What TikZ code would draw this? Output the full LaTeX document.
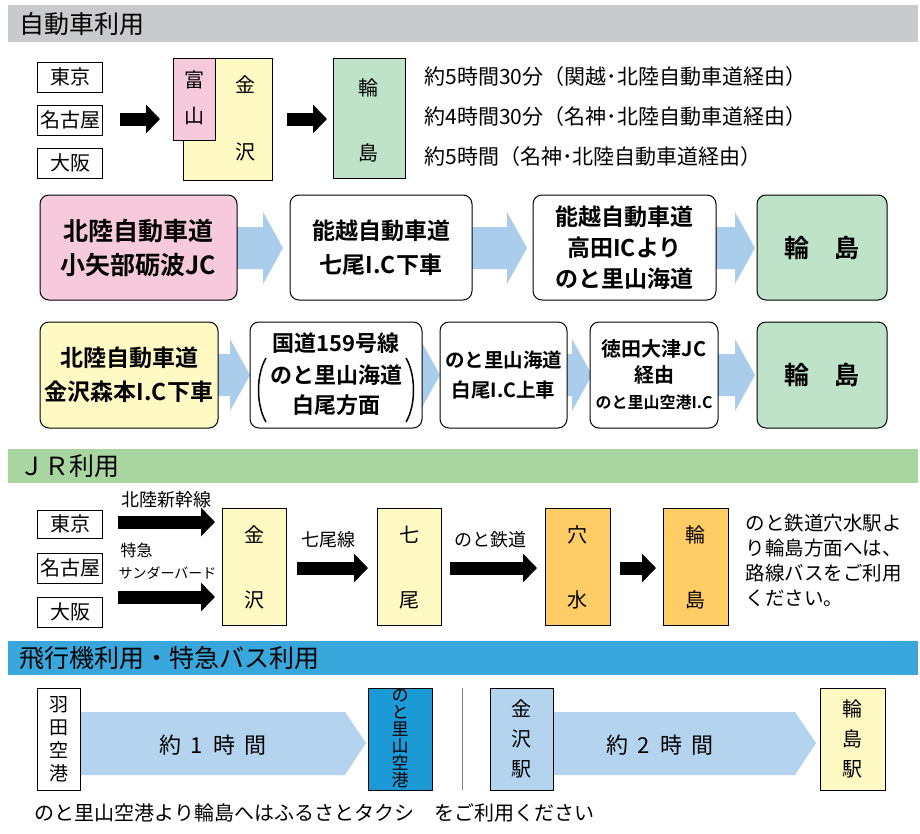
\documentclass[tikz,border=0pt]{standalone}
\usepackage{fontspec}
\setmainfont{Noto Sans CJK JP}
\newfontfamily\jpb{Noto Sans CJK JP Bold}
\usetikzlibrary{arrows.meta}
\definecolor{hgray}{HTML}{C9CACB}
\definecolor{hgreen}{HTML}{A8D5A0}
\definecolor{hblue}{HTML}{3AA7DC}
\definecolor{cpink}{HTML}{F6C9DC}
\definecolor{cyel}{HTML}{FFF9C4}
\definecolor{cgreen}{HTML}{BFE3C8}
\definecolor{corange}{HTML}{FFCC66}
\definecolor{lblue}{HTML}{A9CDEB}
\definecolor{dblue}{HTML}{1C9AD6}
\definecolor{sblue}{HTML}{B3D3EE}
\tikzset{
 hdr/.style={anchor=west,font=\fontsize{25}{25}\selectfont},
 sq/.style={draw,line width=1pt,inner sep=0pt,font=\fontsize{20}{20}\selectfont},
 rb/.style={draw,line width=1pt,rounded corners=9pt,inner sep=0pt,align=center,font=\jpb\fontsize{25}{34}\selectfont},
 blk/.style={line width=13pt,-{Triangle[width=28pt,length=14pt]}},
 lt/.style={anchor=west,font=\fontsize{21}{21}\selectfont},
 sm/.style={font=\fontsize{16}{16}\selectfont},
}
\begin{document}
\begin{tikzpicture}[x=1pt,y=-1pt]
\useasboundingbox (0,0) rectangle (920,833);
\fill[white] (0,0) rectangle (920,833);
% headers
\fill[hgray] (8,5) rectangle (918,42);
\node[hdr] (h1) at (16,24) {自動車利用};
\fill[hgreen] (8,449) rectangle (918,483);
\node[hdr] (h2) at (16,466) {ＪＲ利用};
\fill[hblue] (8,641) rectangle (918,675);
\node[hdr] (h3) at (16,658) {飛行機利用・特急バス利用};
% section 1 top
\node[sq,minimum width=65pt,minimum height=30pt] (t1) at (70,77) {東京};
\node[sq,minimum width=65pt,minimum height=30pt] (n1) at (70,120) {名古屋};
\node[sq,minimum width=65pt,minimum height=30pt] (o1) at (70,163) {大阪};
\node[sq,fill=cyel,minimum width=89pt,minimum height=122pt] (kz1) at (227.5,119) {};
\node[sq,fill=cpink,minimum width=42pt,minimum height=82pt] (ty1) at (194,99) {};
\node[sq,draw=none] at (194,80) {富};
\node[sq,draw=none] at (194,116) {山};
\node[sq,draw=none] at (245,85) {金};
\node[sq,draw=none] at (245,152) {沢};
\node[sq,fill=cgreen,minimum width=72pt,minimum height=120pt] (wj1) at (369,118) {};
\node[sq,draw=none] at (368,88) {輪};
\node[sq,draw=none] at (368,153) {島};
\coordinate (a1) at (120,119); \coordinate (a2) at (160,119);
\draw[blk] (a1) -- (a2);
\coordinate (a3) at (287,119); \coordinate (a4) at (327,119);
\draw[blk] (a3) -- (a4);
\node[lt] (l1) at (421,77) {約5時間30分（関越･北陸自動車道経由）};
\node[lt] (l2) at (421,117) {約4時間30分（名神･北陸自動車道経由）};
\node[lt] (l3) at (421,157) {約5時間（名神･北陸自動車道経由）};
% chevrons row 2 and 3
\foreach \xa/\xb/\yc in {230/283/248, 465/527/248, 710/755/248, 212/250/375, 415/440/375, 562/592/375, 712/755/375}
 \fill[lblue] (\xa,\yc-21) -- (\xb-20,\yc-21) -- (\xb-20,\yc-36) -- (\xb,\yc) -- (\xb-20,\yc+36) -- (\xb-20,\yc+21) -- (\xa,\yc+21) -- cycle;
% row 2
\node[rb,fill=cpink,minimum width=197pt,minimum height=105pt] (r21) at (138.5,247.5) {北陸自動車道\\小矢部砺波JC};
\node[rb,fill=white,minimum width=182pt,minimum height=105pt,font=\jpb\fontsize{23}{34}\selectfont] (r22) at (381,247.5) {能越自動車道\\七尾I.C下車};
\node[rb,fill=white,minimum width=183pt,minimum height=105pt,font=\jpb\fontsize{23}{31}\selectfont] (r23) at (624.5,247.5) {能越自動車道\\高田ICより\\のと里山海道};
\node[rb,fill=cgreen,minimum width=130pt,minimum height=105pt] (r24) at (822,247.5) {輪\quad 島};
% row 3
\node[rb,fill=cyel,minimum width=178pt,minimum height=106pt,font=\jpb\fontsize{23}{34}\selectfont] (r31) at (129,375) {北陸自動車道\\金沢森本I.C下車};
\node[rb,fill=white,minimum width=172pt,minimum height=106pt] (r32) at (336,375) {};
\node[font=\jpb\fontsize{22}{22}\selectfont] at (336,343) {国道159号線};
\node[font=\jpb\fontsize{22}{22}\selectfont] at (336,375) {のと里山海道};
\node[font=\jpb\fontsize{22}{22}\selectfont] at (336,405) {白尾方面};
\draw[line width=1.5pt] (266,358) .. controls (256,375) and (256,405) .. (266,422);
\draw[line width=1.5pt] (406,358) .. controls (416,375) and (416,405) .. (406,422);
\node[rb,fill=white,minimum width=127pt,minimum height=106pt,font=\jpb\fontsize{19.5}{30}\selectfont] (r33) at (503.5,375) {のと里山海道\\白尾I.C上車};
\node[rb,fill=white,minimum width=128pt,minimum height=106pt,font=\jpb\fontsize{20}{26}\selectfont] (r34) at (654,375) {徳田大津JC\\経由\\{\fontsize{16}{16}\selectfont のと里山空港I.C}};
\node[rb,fill=cgreen,minimum width=130pt,minimum height=106pt] (r35) at (822,375) {輪\quad 島};
% JR section
\node[sq,minimum width=65pt,minimum height=28pt] (t2) at (70,524) {東京};
\node[sq,minimum width=65pt,minimum height=30pt] (n2) at (70,568) {名古屋};
\node[sq,minimum width=65pt,minimum height=30pt] (o2) at (70,612) {大阪};
\node[sq,fill=cyel,minimum width=64pt,minimum height=117pt] (kz2) at (254,566.5) {};
\node[sq,draw=none] at (254,535) {金};
\node[sq,draw=none] at (254,600) {沢};
\node[sq,fill=cyel,minimum width=64pt,minimum height=117pt] (nn2) at (409,566.5) {};
\node[sq,draw=none] at (409,535) {七};
\node[sq,draw=none] at (409,600) {尾};
\node[sq,fill=corange,minimum width=65pt,minimum height=117pt] (am2) at (577.5,566.5) {};
\node[sq,draw=none] at (577,535) {穴};
\node[sq,draw=none] at (577,600) {水};
\node[sq,fill=corange,minimum width=65pt,minimum height=117pt] (wj2) at (695.5,566.5) {};
\node[sq,draw=none] at (695,535) {輪};
\node[sq,draw=none] at (695,600) {島};
\coordinate (b1) at (118,522); \coordinate (b2) at (215,522);
\draw[blk] (b1) -- (b2);
\coordinate (b3) at (118,597); \coordinate (b4) at (215,597);
\draw[blk] (b3) -- (b4);
\node[sm,font=\fontsize{18}{18}\selectfont] at (166,500) {北陸新幹線};
\node[sm,anchor=west] at (117,550) {特急};
\node[sm,anchor=west,font=\fontsize{14}{14}\selectfont] at (115,573) {サンダーバード};
\coordinate (b5) at (297,568); \coordinate (b6) at (368,568);
\draw[blk] (b5) -- (b6);
\node[sm,font=\fontsize{18}{18}\selectfont] at (328,540) {七尾線};
\coordinate (b7) at (450,568); \coordinate (b8) at (537,568);
\draw[blk] (b7) -- (b8);
\node[sm,font=\fontsize{18}{18}\selectfont] at (490,540) {のと鉄道};
\coordinate (b9) at (620,568); \coordinate (b10) at (656,568);
\draw[blk] (b9) -- (b10);
\node[anchor=north west,align=left,font=\fontsize{19.5}{25}\selectfont] (jrt) at (742,511) {のと鉄道穴水駅よ\\り輪島方面へは、\\路線バスをご利用\\ください。};
% air / bus
\fill[sblue] (78,712) -- (345,712) -- (366,743) -- (345,775) -- (78,775) -- cycle;
\fill[sblue] (551,712) -- (795,712) -- (816,743) -- (795,775) -- (551,775) -- cycle;
\node[sq,fill=white,minimum width=43pt,minimum height=102pt,align=center,font=\fontsize{19}{23}\selectfont] (hn) at (58.5,739) {羽\\田\\空\\港};
\node[font=\fontsize{22}{22}\selectfont] at (213,745) {約\ \ 1\ \ 時\ \ 間};
\node[sq,fill=dblue,minimum width=64pt,minimum height=102pt,align=center,font=\fontsize{17}{17}\selectfont] (nt) at (400,739) {の\\と\\里\\山\\空\\港};
\draw[gray,line width=0.8pt] (462,688) -- (462,790);
\node[sq,fill=sblue,minimum width=63pt,minimum height=102pt,align=center,font=\fontsize{20}{30}\selectfont] (ks) at (521.5,739) {金\\沢\\駅};
\node[font=\fontsize{22}{22}\selectfont] at (660,745) {約\ \ 2\ \ 時\ \ 間};
\node[sq,fill=cyel,minimum width=65pt,minimum height=102pt,align=center,font=\fontsize{20}{30}\selectfont] (ws) at (852.5,739) {輪\\島\\駅};
\node[anchor=west,font=\fontsize{20}{20}\selectfont] (bt) at (31,813) {のと里山空港より輪島へはふるさとタクシ\quad をご利用ください};
\end{tikzpicture}
\end{document}
